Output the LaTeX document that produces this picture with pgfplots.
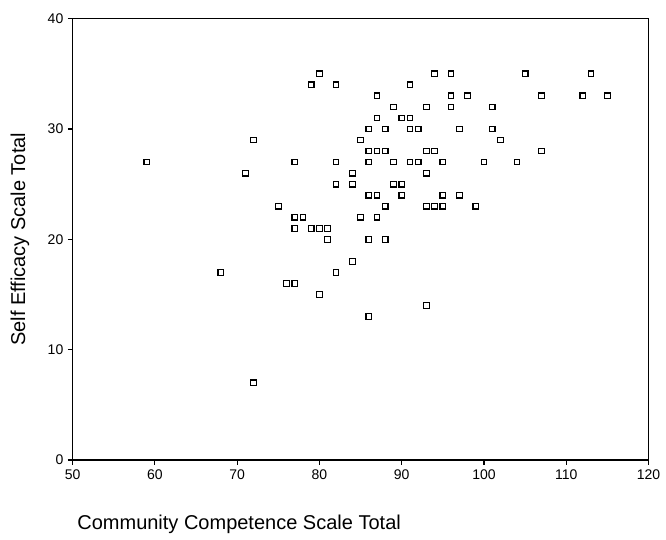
\documentclass[border=0pt]{standalone}
\usepackage{pgfplots}
\pgfplotsset{compat=1.18}
\usepackage{fontspec}
\setmainfont{Liberation Sans}

\pgfplotstableread{
x y
59 27
68 17
71 26
72 29
72 7
75 23
76 16
77 16
77 27
77 22
78 22
77 21
79 34
80 35
79 21
80 21
81 21
81 20
80 15
82 34
82 27
82 25
82 17
84 26
84 25
84 18
85 29
85 22
86 30
86 28
87 28
88 28
86 27
86 24
87 24
86 20
86 13
87 33
87 31
87 22
88 30
88 23
88 20
89 32
89 27
89 25
90 25
90 31
90 24
91 34
91 31
91 30
91 27
92 30
92 27
93 32
93 28
94 28
93 26
93 23
94 23
95 23
93 14
94 35
95 27
95 24
96 35
96 33
96 32
97 30
97 24
98 33
99 23
100 27
101 32
101 30
102 29
104 27
105 35
107 33
107 28
112 33
113 35
115 33
}\scores

\begin{document}
\begin{tikzpicture}
\begin{axis}[
  name=ax,
  scale only axis,
  width=431.9pt, height=331pt,
  xmin=50, xmax=120, ymin=0, ymax=40,
  xtick={50,60,...,120}, ytick={0,10,...,40},
  xtick pos=bottom, ytick pos=left,
  tick align=outside,
  major tick length=3.5pt,
  axis line style={line width=1.1pt},
  tick style={line width=0.8pt, black},
  tick label style={font=\fontsize{10.5}{12}\selectfont},
  /pgf/number format/assume math mode=true,
  every axis x label/.style={at={(axis description cs:0,-0.145)}, anchor=west},
  every axis y label/.style={at={(axis description cs:-0.0915,0.5)}, rotate=90, anchor=center},
  label style={font=\fontsize{15}{18}\selectfont},
  xlabel={Community Competence Scale Total},
  ylabel={Self Efficacy Scale Total},
]
\addplot[only marks, mark=square, mark size=2.1pt,
  mark options={line width=0.9pt, draw=black, fill=white}] table[x=x, y=y] {\scores};
\end{axis}
\pgfresetboundingbox
\path[use as bounding box] ([shift={(-54.5pt,-59.25pt)}]ax.south west) rectangle ([shift={(13.1pt,14pt)}]ax.north east);
\end{tikzpicture}
\end{document}
